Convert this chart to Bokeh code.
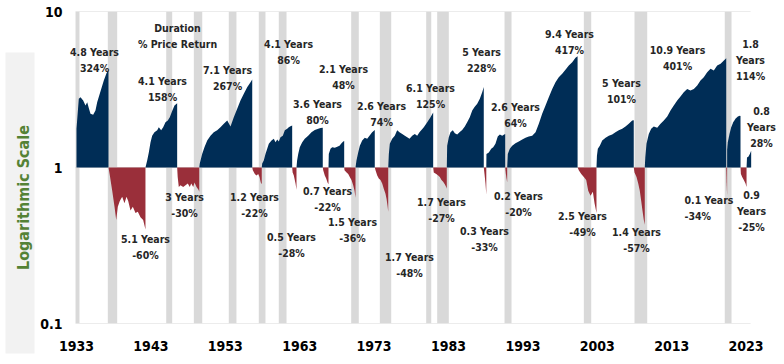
import math
from bokeh.plotting import figure
from bokeh.layouts import row
from bokeh.models import FixedTicker, CustomJSTickFormatter, Label
from bokeh.core.properties import value
from bokeh.embed import file_html
from bokeh.resources import INLINE

# ---------------- data: bull market paths (decimal year, growth of 1) ----------------
bull1_t = [1933.0, 1933.31, 1933.54, 1933.9, 1934.21, 1934.44, 1934.65, 1934.88, 1935.24, 1935.55, 1935.78, 1936.23, 1936.67, 1937.03, 1937.3]
bull1_v = [1.77, 2.76, 2.82, 2.69, 2.50, 2.62, 2.41, 2.21, 2.18, 2.32, 2.62, 3.08, 3.61, 4.02, 4.24]
bull2_t = [1942.27, 1942.5, 1942.72, 1942.95, 1943.17, 1943.48, 1943.85, 1944.06, 1944.38, 1944.65, 1944.96, 1945.27, 1945.54, 1945.86, 1946.17, 1946.53]
bull2_v = [1.0, 1.11, 1.25, 1.45, 1.60, 1.68, 1.73, 1.81, 1.73, 1.81, 1.95, 2.0, 2.10, 2.30, 2.50, 2.58]
bull3_t = [1949.5, 1949.57, 1949.89, 1950.2, 1950.57, 1951.01, 1951.45, 1951.91, 1952.35, 1952.8, 1953.26, 1953.7, 1954.14, 1954.6, 1955.04, 1955.49, 1955.94, 1956.39, 1956.62]
bull3_v = [1.0, 1.06, 1.22, 1.35, 1.49, 1.60, 1.68, 1.73, 1.81, 1.91, 2.0, 1.83, 2.10, 2.38, 2.69, 2.97, 3.27, 3.52, 3.67]
bull4_t = [1957.9, 1957.96, 1958.17, 1958.4, 1958.63, 1958.85, 1959.21, 1959.52, 1959.75, 1959.98, 1960.19, 1960.42, 1960.73, 1961.0, 1961.32, 1961.53, 1961.76, 1961.99]
bull4_v = [1.0, 1.06, 1.11, 1.22, 1.32, 1.42, 1.49, 1.53, 1.45, 1.51, 1.47, 1.56, 1.60, 1.73, 1.77, 1.81, 1.84, 1.86]
bull5_t = [1962.57, 1962.65, 1962.8, 1963.01, 1963.34, 1963.68, 1964.14, 1964.58, 1965.03, 1965.49, 1965.8, 1966.1]
bull5_v = [1.0, 1.11, 1.22, 1.35, 1.45, 1.53, 1.60, 1.68, 1.74, 1.77, 1.79, 1.80]
bull6_t = [1966.87, 1966.91, 1967.14, 1967.37, 1967.72, 1968.04, 1968.35, 1968.62, 1968.85, 1968.98]
bull6_v = [1.0, 1.22, 1.32, 1.35, 1.34, 1.36, 1.38, 1.43, 1.47, 1.48]
bull7_t = [1970.5, 1970.63, 1970.86, 1971.08, 1971.4, 1971.75, 1972.07, 1972.38, 1972.74, 1973.09]
bull7_v = [1.0, 1.11, 1.25, 1.38, 1.49, 1.55, 1.53, 1.60, 1.68, 1.74]
bull8_t = [1974.9, 1974.98, 1975.11, 1975.43, 1975.78, 1976.1, 1976.41, 1976.78, 1977.13, 1977.45, 1977.76, 1978.12, 1978.47, 1978.79, 1979.1, 1979.68, 1980.14, 1980.58, 1980.94]
bull8_v = [1.0, 1.22, 1.42, 1.53, 1.60, 1.73, 1.68, 1.64, 1.60, 1.56, 1.53, 1.60, 1.64, 1.60, 1.68, 1.81, 1.95, 2.10, 2.25]
bull9_t = [1982.77, 1982.82, 1983.04, 1983.27, 1983.58, 1983.85, 1984.17, 1984.48, 1984.84, 1985.19, 1985.51, 1985.86, 1986.19, 1986.5, 1986.86, 1987.21, 1987.53, 1987.74]
bull9_v = [1.0, 1.38, 1.56, 1.68, 1.73, 1.66, 1.63, 1.68, 1.74, 1.83, 1.95, 2.10, 2.32, 2.44, 2.56, 2.76, 3.04, 3.28]
bull10_t = [1988.08, 1988.1, 1988.42, 1988.74, 1989.01, 1989.31, 1989.62, 1989.9, 1990.22, 1990.43, 1990.62]
bull10_v = [1.0, 1.22, 1.25, 1.32, 1.35, 1.42, 1.58, 1.63, 1.60, 1.62, 1.64]
bull11_t = [1990.89, 1990.97, 1991.24, 1991.56, 1992.0, 1992.45, 1992.91, 1993.35, 1993.79, 1994.25, 1994.7, 1995.14, 1995.59, 1996.04, 1996.48, 1996.94, 1997.38, 1997.82, 1998.28, 1998.72, 1999.17, 1999.63, 2000.07, 2000.35]
bull11_v = [1.0, 1.22, 1.32, 1.38, 1.43, 1.47, 1.51, 1.55, 1.58, 1.60, 1.68, 1.91, 2.21, 2.50, 2.82, 3.19, 3.52, 3.79, 3.99, 4.23, 4.51, 4.73, 5.05, 5.17]
bull12_t = [2002.89, 2002.95, 2003.07, 2003.34, 2003.66, 2004.11, 2004.55, 2005.0, 2005.44, 2005.89, 2006.35, 2006.79, 2007.23, 2007.69, 2007.9]
bull12_v = [1.0, 1.19, 1.32, 1.38, 1.49, 1.55, 1.60, 1.63, 1.68, 1.73, 1.77, 1.83, 1.91, 2.0, 2.01]
bull13_t = [2009.38, 2009.45, 2009.61, 2009.92, 2010.24, 2010.59, 2011.05, 2011.5, 2011.94, 2012.4, 2012.84, 2013.28, 2013.74, 2014.18, 2014.62, 2015.08, 2015.52, 2015.97, 2016.43, 2016.87, 2017.31, 2017.77, 2018.22, 2018.66, 2019.11, 2019.57, 2020.01, 2020.33]
bull13_v = [1.0, 1.16, 1.42, 1.64, 1.77, 1.83, 1.80, 1.91, 2.0, 2.12, 2.32, 2.50, 2.69, 2.85, 3.04, 3.19, 3.12, 3.19, 3.35, 3.61, 3.79, 4.08, 4.29, 4.19, 4.51, 4.62, 4.85, 5.01]
bull14_t = [2020.45, 2020.54, 2020.77, 2021.0, 2021.27, 2021.57, 2021.89, 2022.15, 2022.25]
bull14_v = [1.30, 1.45, 1.64, 1.81, 1.95, 2.05, 2.12, 2.15, 2.14]
bull15_t = [2023.06, 2023.12, 2023.3, 2023.5, 2023.68]
bull15_v = [1.0, 1.16, 1.17, 1.22, 1.28]

# ---------------- data: bear market paths ----------------
bear1_t = [1937.3, 1937.45, 1937.8, 1938.11, 1938.34, 1938.55, 1938.82, 1939.14, 1939.45, 1939.72, 1939.95, 1940.26, 1940.57, 1940.93, 1941.24, 1941.6, 1941.96, 1942.27]
bear1_v = [1.0, 0.91, 0.71, 0.56, 0.46, 0.56, 0.61, 0.65, 0.59, 0.65, 0.61, 0.53, 0.56, 0.51, 0.52, 0.48, 0.46, 0.40]
bear2_t = [1946.53, 1946.6, 1946.75, 1946.98, 1947.34, 1947.65, 1947.96, 1948.23, 1948.42, 1948.69, 1948.86, 1949.13, 1949.4, 1949.5]
bear2_v = [1.0, 0.87, 0.75, 0.77, 0.75, 0.77, 0.79, 0.75, 0.79, 0.75, 0.80, 0.75, 0.72, 0.70]
bear3_t = [1956.62, 1956.7, 1956.97, 1957.19, 1957.42, 1957.6, 1957.77, 1957.9]
bear3_v = [1.0, 0.96, 0.91, 0.89, 0.91, 0.87, 0.80, 0.78]
bear4_t = [1961.99, 1962.05, 1962.21, 1962.44, 1962.57]
bear4_v = [1.0, 0.93, 0.89, 0.79, 0.72]
bear5_t = [1966.1, 1966.16, 1966.37, 1966.56, 1966.74, 1966.87]
bear5_v = [1.0, 0.96, 0.89, 0.85, 0.80, 0.78]
bear6_t = [1968.98, 1969.02, 1969.3, 1969.52, 1969.73, 1969.96, 1970.19, 1970.37, 1970.5]
bear6_v = [1.0, 0.96, 0.93, 0.91, 0.87, 0.83, 0.77, 0.71, 0.64]
bear7_t = [1973.09, 1973.19, 1973.42, 1973.63, 1973.86, 1974.09, 1974.3, 1974.53, 1974.67, 1974.8, 1974.9]
bear7_v = [1.0, 0.96, 0.89, 0.85, 0.83, 0.79, 0.73, 0.68, 0.63, 0.57, 0.52]
bear8_t = [1980.94, 1981.02, 1981.35, 1981.61, 1981.83, 1982.06, 1982.28, 1982.5, 1982.69, 1982.77]
bear8_v = [1.0, 0.93, 0.91, 0.89, 0.87, 0.83, 0.81, 0.78, 0.75, 0.73]
bear9_t = [1987.74, 1987.84, 1987.97, 1988.08]
bear9_v = [1.0, 0.91, 0.79, 0.67]
bear10_t = [1990.62, 1990.7, 1990.8, 1990.89]
bear10_v = [1.0, 0.92, 0.85, 0.80]
bear11_t = [2000.35, 2000.51, 2000.84, 2001.19, 2001.51, 2001.78, 2002.09, 2002.4, 2002.63, 2002.89]
bear11_v = [1.0, 0.96, 0.91, 0.87, 0.83, 0.71, 0.66, 0.70, 0.59, 0.51]
bear12_t = [2007.9, 2008.0, 2008.27, 2008.5, 2008.71, 2008.9, 2009.07, 2009.25, 2009.38]
bear12_v = [1.0, 0.93, 0.87, 0.79, 0.71, 0.61, 0.53, 0.46, 0.43]
bear13_t = [2020.33, 2020.38, 2020.45]
bear13_v = [1.0, 0.80, 0.66]
bear14_t = [2022.25, 2022.3, 2022.47, 2022.69, 2022.92, 2023.06]
bear14_v = [1.0, 0.91, 0.87, 0.83, 0.79, 0.75]

# ---------------- data: recessions ----------------
rec_start = [1932.87, 1937.21, 1945.06, 1948.77, 1953.47, 1957.5, 1960.19, 1969.92, 1973.77, 1980.0, 1981.48, 1990.53, 2001.19, 2008.0, 2020.13]
rec_end = [1933.4, 1938.47, 1945.86, 1949.9, 1954.5, 1958.4, 1961.23, 1970.94, 1975.3, 1980.68, 1983.04, 1991.47, 2002.18, 2009.71, 2021.04]

# ---------------- data: annotations ----------------
bull_years = [4.8, 4.1, 7.1, 4.1, 3.6, 2.1, 2.6, 6.1, 5, 2.6, 9.4, 5, 10.9, 1.8, 0.8]
bull_pct = [324, 158, 267, 86, 80, 48, 74, 125, 228, 64, 417, 101, 401, 114, 28]
bear_years = [5.1, 3, 1.2, 0.5, 0.7, 1.5, 1.7, 1.7, 0.3, 0.2, 2.5, 1.4, 0.1, 0.9]
bear_pct = [-60, -30, -22, -28, -22, -36, -48, -27, -33, -20, -49, -57, -34, -25]

tick_years = [1933, 1943, 1953, 1963, 1973, 1983, 1993, 2003, 2013, 2023]
y_ticks = [0.1, 1, 10]
plot_start, plot_end = 1932.87, 2023.6   # extent of the chart's grid lines

# label anchor positions (layout only)
bull_lab_t = [1935.42, 1944.56, 1953.3, 1961.5, 1965.39, 1968.89, 1974.0, 1980.58, 1987.44, 1992.0, 1999.26, 2006.25, 2013.78, 2023.59, 2025.07]
bull_lab_v = [5.53, 3.6, 4.24, 6.22, 2.56, 4.3, 2.49, 3.25, 5.53, 2.45, 7.22, 3.49, 5.7, 6.22, 2.31]
bear_lab_t = [1942.27, 1947.52, 1956.92, 1961.9, 1966.74, 1970.1, 1977.76, 1982.06, 1987.84, 1992.41, 2001.01, 2008.27, 2014.72, 2023.73]
bear_lab_v = [0.347, 0.646, 0.646, 0.357, 0.706, 0.446, 0.266, 0.6, 0.391, 0.656, 0.488, 0.385, 0.618, 0.665]
bull_stacked = [13, 14]
bear_stacked = [13]
bear_left = [12]

NAVY = "#002D56"
RED = "#9A2F3A"
GREY = "#D9D9D9"
TXT = "#262626"
GREEN = "#548235"
FONT = "DejaVu Sans Condensed, DejaVu Sans, sans-serif"

bulls = [(bull1_t, bull1_v), (bull2_t, bull2_v), (bull3_t, bull3_v), (bull4_t, bull4_v),
         (bull5_t, bull5_v), (bull6_t, bull6_v), (bull7_t, bull7_v), (bull8_t, bull8_v),
         (bull9_t, bull9_v), (bull10_t, bull10_v), (bull11_t, bull11_v), (bull12_t, bull12_v),
         (bull13_t, bull13_v), (bull14_t, bull14_v), (bull15_t, bull15_v)]
bears = [(bear1_t, bear1_v), (bear2_t, bear2_v), (bear3_t, bear3_v), (bear4_t, bear4_v),
         (bear5_t, bear5_v), (bear6_t, bear6_v), (bear7_t, bear7_v), (bear8_t, bear8_v),
         (bear9_t, bear9_v), (bear10_t, bear10_v), (bear11_t, bear11_v), (bear12_t, bear12_v),
         (bear13_t, bear13_v), (bear14_t, bear14_v)]

# ---------------- side strip with the "Logarithmic Scale" caption ----------------
side = figure(width=36, height=364, x_range=(0, 36), y_range=(0, 364),
              output_backend="svg", toolbar_location=None,
              x_axis_location=None, y_axis_location=None,
              min_border_left=0, min_border_right=0, min_border_top=0, min_border_bottom=0)
side.frame_align = False
side.outline_line_color = None
side.grid.visible = False
side.background_fill_color = "white"
side.border_fill_color = "white"
side.quad(left=[5], right=[34], bottom=[11], top=[312], fill_color="#F2F2F2", line_color=None)
side.text(x=[23], y=[167], text=["Logarithmic Scale"], angle=math.pi / 2,
          text_align="center", text_baseline="middle", text_font=value(FONT),
          text_font_size="16px", text_font_style="bold", text_color=GREEN)

# ---------------- main chart ----------------
fig = figure(width=748, height=364, x_range=(1931.925, 2028.16), y_range=(0.1, 10),
             y_axis_type="log", output_backend="svg", toolbar_location=None,
             min_border_left=32, min_border_right=0, min_border_top=11, min_border_bottom=41)
fig.frame_align = False
fig.outline_line_color = None
fig.background_fill_color = "white"
fig.border_fill_color = "white"
fig.xgrid.visible = False
fig.ygrid.visible = False

fig.quad(left=rec_start, right=rec_end, bottom=0.1, top=10, fill_color=GREY, line_color=None)
fig.segment(x0=[plot_start] * len(y_ticks), x1=[plot_end] * len(y_ticks), y0=y_ticks, y1=y_ticks,
            line_color=GREY, line_width=1)

for t, v in bulls:
    fig.varea(x=t, y1=1, y2=v, fill_color=NAVY)
for t, v in bears:
    fig.varea(x=t, y1=1, y2=v, fill_color=RED)

for ax in (fig.xaxis[0], fig.yaxis[0]):
    ax.axis_line_color = None
    ax.major_tick_line_color = None
    ax.minor_tick_line_color = None
    ax.major_tick_out = 0
    ax.major_tick_in = 0
    ax.minor_tick_out = 0
    ax.minor_tick_in = 0
    ax.major_label_text_font = FONT
    ax.major_label_text_font_style = "bold"
    ax.major_label_text_font_size = "14px"
    ax.major_label_text_color = "#000000"

fig.xaxis.ticker = FixedTicker(ticks=tick_years)
fig.xaxis.major_label_standoff = 17
fig.yaxis.ticker = FixedTicker(ticks=y_ticks)
fig.yaxis.formatter = CustomJSTickFormatter(code="return tick < 1 ? tick.toFixed(1) : tick.toFixed(0);")
fig.yaxis.major_label_standoff = 6

LINE = 16


def add_lines(x, y, lines, align="center"):
    for k, s in enumerate(lines):
        fig.add_layout(Label(x=x, y=y, y_offset=-LINE * k, text=s, text_align=align,
                             text_baseline="middle", text_font=FONT, text_font_style="bold",
                             text_font_size="10.5px", text_color=TXT))


for i in range(len(bull_years)):
    yrs = f"{bull_years[i]:g}"
    ret = f"{bull_pct[i]}%"
    lines = [yrs, "Years", ret] if i in bull_stacked else [f"{yrs} Years", ret]
    add_lines(bull_lab_t[i], bull_lab_v[i], lines)

for i in range(len(bear_years)):
    yrs = f"{bear_years[i]:g}"
    ret = f"{bear_pct[i]}%"
    lines = [yrs, "Years", ret] if i in bear_stacked else [f"{yrs} Years", ret]
    add_lines(bear_lab_t[i], bear_lab_v[i], lines, "left" if i in bear_left else "center")

add_lines(1946.58, 7.89, ["Duration", "% Price Return"])

p = row(side, fig, spacing=0)

open("out.html", "w").write(file_html(p, INLINE))
